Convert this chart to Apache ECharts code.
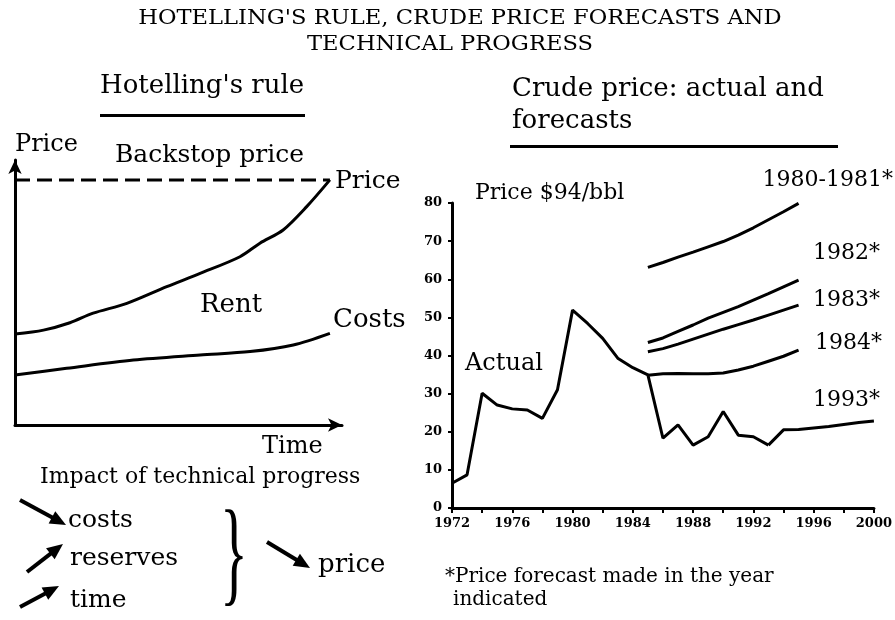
<!DOCTYPE html>
<html><head><meta charset="utf-8">
<script src="https://cdn.jsdelivr.net/npm/echarts@6/dist/echarts.min.js"></script>
<style>html,body{margin:0;padding:0;background:#fff}#c{width:895px;height:620px}</style>
</head><body><div id="c"></div>
<script>
// ---- Right panel data: crude price, actual and forecasts ($/bbl, real) ----
const actualYears = [1972,1973,1974,1975,1976,1977,1978,1979,1980,1981,1982,1983,1984,1985,1986,1987,1988,1989,1990,1991,1992,1993];
const actualPrice = [6.5,8.7,30.1,27.0,26.0,25.7,23.5,31.0,51.9,48.4,44.5,39.3,36.8,34.9,18.3,21.8,16.5,18.7,25.3,19.1,18.7,16.5];
const forecastYears = [1985,1986,1987,1988,1989,1990,1991,1992,1993,1994,1995];
const forecast1980_81 = [63.1,64.4,65.8,67.1,68.5,69.9,71.6,73.5,75.6,77.7,79.9];
const forecast1982 = [43.4,44.6,46.3,48.0,49.8,51.3,52.8,54.5,56.2,58.0,59.8];
const forecast1983 = [41.0,41.8,43.0,44.3,45.6,46.9,48.1,49.3,50.6,51.9,53.2];
const forecast1984 = [34.8,35.2,35.3,35.2,35.2,35.4,36.2,37.2,38.5,39.8,41.4];
const forecast1993Years = [1993,1994,1995,1996,1997,1998,1999,2000];
const forecast1993 = [16.5,20.5,20.6,21.0,21.4,21.9,22.4,22.8];
const xLabelYears = [1972,1976,1980,1984,1988,1992,1996,2000];

// ---- Left panel: Hotelling's rule schematic (arbitrary 0-100 units) ----
const schemPriceT = [0,8.7,16.8,23.9,34.2,46.4,56.6,68.8,74.9,82.0,89.2,96.3];
const schemPrice  = [34.3,35.8,38.6,42.2,45.9,52.2,57.2,63.5,68.6,73.6,82.4,92.5];
const schemCostT  = [0,15.8,36.2,56.6,71.9,85.1,96.3];
const schemCost   = [18.9,21.4,24.5,26.4,27.7,30.2,34.6];
const backstopT   = [0,96.3];
const backstop    = [92.5,92.5];

const zip = (a,b)=>a.map((v,i)=>[v,b[i]]);
const F = '"DejaVu Serif", serif';
const black = '#000';

function txt(text, x, y, size, align, extra){
  return Object.assign({type:'text', style:{text:text, x:x, y:y, font: size+'px '+F, fill:black,
    textAlign:align||'left', textVerticalAlign:'middle'}}, extra||{});
}
function wideTxt(text, cx, cy, size, sx){
  return {type:'text', x:cx, y:cy, scaleX:sx, style:{text:text, x:0, y:0, font:size+'px '+F, fill:black,
    textAlign:'center', textVerticalAlign:'middle'}};
}
function arrow(x1,y1,x2,y2){
  const a=Math.atan2(y2-y1,x2-x1), L=16, W=7;
  const bx=x2-L*Math.cos(a), by=y2-L*Math.sin(a);
  return {type:'group', children:[
    {type:'line', shape:{x1:x1,y1:y1,x2:bx+2*Math.cos(a),y2:by+2*Math.sin(a)}, style:{stroke:black,lineWidth:4}},
    {type:'polygon', shape:{points:[[x2,y2],[bx+W*Math.sin(a),by-W*Math.cos(a)],[bx-W*Math.sin(a),by+W*Math.cos(a)]]}, style:{fill:black}}
  ]};
}
const lineS = (name, data, xi, extra)=>Object.assign({
  type:'line', name:name, data:data, xAxisIndex:xi, yAxisIndex:xi, symbol:'none',
  lineStyle:{color:black,width:3}, z:3, silent:true
}, extra||{});

const chart = echarts.init(document.getElementById('c'), null, {renderer:'canvas'});
chart.setOption({
  animation:false,
  backgroundColor:'#fff',
  grid:[
    {left:15, top:160, width:327, height:265},
    {left:452, top:203, width:424, height:305}
  ],
  xAxis:[
    {gridIndex:0, type:'value', min:0, max:100, splitLine:{show:false}, axisLabel:{show:false}, axisTick:{show:false},
     axisLine:{lineStyle:{color:black,width:3}, symbol:['none','arrow'], symbolSize:[10,14]}},
    {gridIndex:1, type:'value', min:1972, max:2000, interval:2, splitLine:{show:false},
     axisLine:{lineStyle:{color:black,width:3}},
     axisTick:{length:5, lineStyle:{color:black,width:2}},
     axisLabel:{margin:9, color:black, fontFamily:F, fontSize:13, fontWeight:'bold',
       formatter:v=> xLabelYears.indexOf(v)>=0 ? String(v) : ''}}
  ],
  yAxis:[
    {gridIndex:0, type:'value', min:0, max:100, splitLine:{show:false}, axisLabel:{show:false}, axisTick:{show:false},
     axisLine:{lineStyle:{color:black,width:3}, symbol:['none','arrow'], symbolSize:[10,14]}},
    {gridIndex:1, type:'value', min:0, max:80, interval:10, splitLine:{show:false},
     axisLine:{show:true, lineStyle:{color:black,width:3}},
     axisTick:{show:true, length:4, lineStyle:{color:black,width:2}},
     axisLabel:{margin:10, color:black, fontFamily:F, fontSize:13, fontWeight:'bold'}}
  ],
  series:[
    lineS('Price', zip(schemPriceT, schemPrice), 0, {smooth:0.3}),
    lineS('Costs', zip(schemCostT, schemCost), 0, {smooth:0.3}),
    lineS('Backstop price', zip(backstopT, backstop), 0, {lineStyle:{color:black,width:3,type:[15,7]}}),
    lineS('Actual', zip(actualYears, actualPrice), 1),
    lineS('1980-1981*', zip(forecastYears, forecast1980_81), 1),
    lineS('1982*', zip(forecastYears, forecast1982), 1),
    lineS('1983*', zip(forecastYears, forecast1983), 1),
    lineS('1984*', zip(forecastYears, forecast1984), 1),
    lineS('1993*', zip(forecast1993Years, forecast1993), 1)
  ],
  graphic:[
    wideTxt("HOTELLING'S RULE, CRUDE PRICE FORECASTS AND", 460, 19, 20, 1.13),
    wideTxt('TECHNICAL PROGRESS', 450, 45, 20, 1.13),
    txt("Hotelling's rule", 100, 86, 26),
    {type:'rect', shape:{x:100,y:114,width:205,height:3}, style:{fill:black}},
    txt('Crude price: actual and', 512, 89, 26),
    txt('forecasts', 512, 121, 26),
    {type:'rect', shape:{x:510,y:145,width:328,height:3}, style:{fill:black}},
    txt('Price', 15, 145, 24),
    txt('Backstop price', 115, 155, 25),
    txt('Price', 335, 181, 25),
    txt('Rent', 200, 305, 26),
    txt('Costs', 333, 320, 26),
    txt('Time', 262, 447, 24),
    txt('Impact of technical progress', 40, 477, 22),
    txt('costs', 68, 520, 25),
    txt('reserves', 70, 558, 25),
    txt('time', 70, 600, 25),
    txt('price', 318, 565, 26),
    arrow(20,500,66,525),
    arrow(27,572,63,544),
    arrow(20,607,59,586),
    arrow(267,542,310,568),
    {type:'text', x:234, y:560, scaleX:0.5, style:{text:'}', x:0, y:0, font:'116px "Liberation Serif", serif', fill:black, textAlign:'center', textVerticalAlign:'middle'}},
    txt('Price $94/bbl', 475, 193, 22),
    txt('Actual', 465, 364, 24),
    txt('1980-1981*', 893, 180, 22, 'right'),
    txt('1982*', 880, 253, 22, 'right'),
    txt('1983*', 880, 300, 22, 'right'),
    txt('1984*', 882, 343, 22, 'right'),
    txt('1993*', 880, 400, 22, 'right'),
    txt('*Price forecast made in the year', 445, 577, 20),
    txt('indicated', 453, 600, 20)
  ]
});
</script></body></html>
